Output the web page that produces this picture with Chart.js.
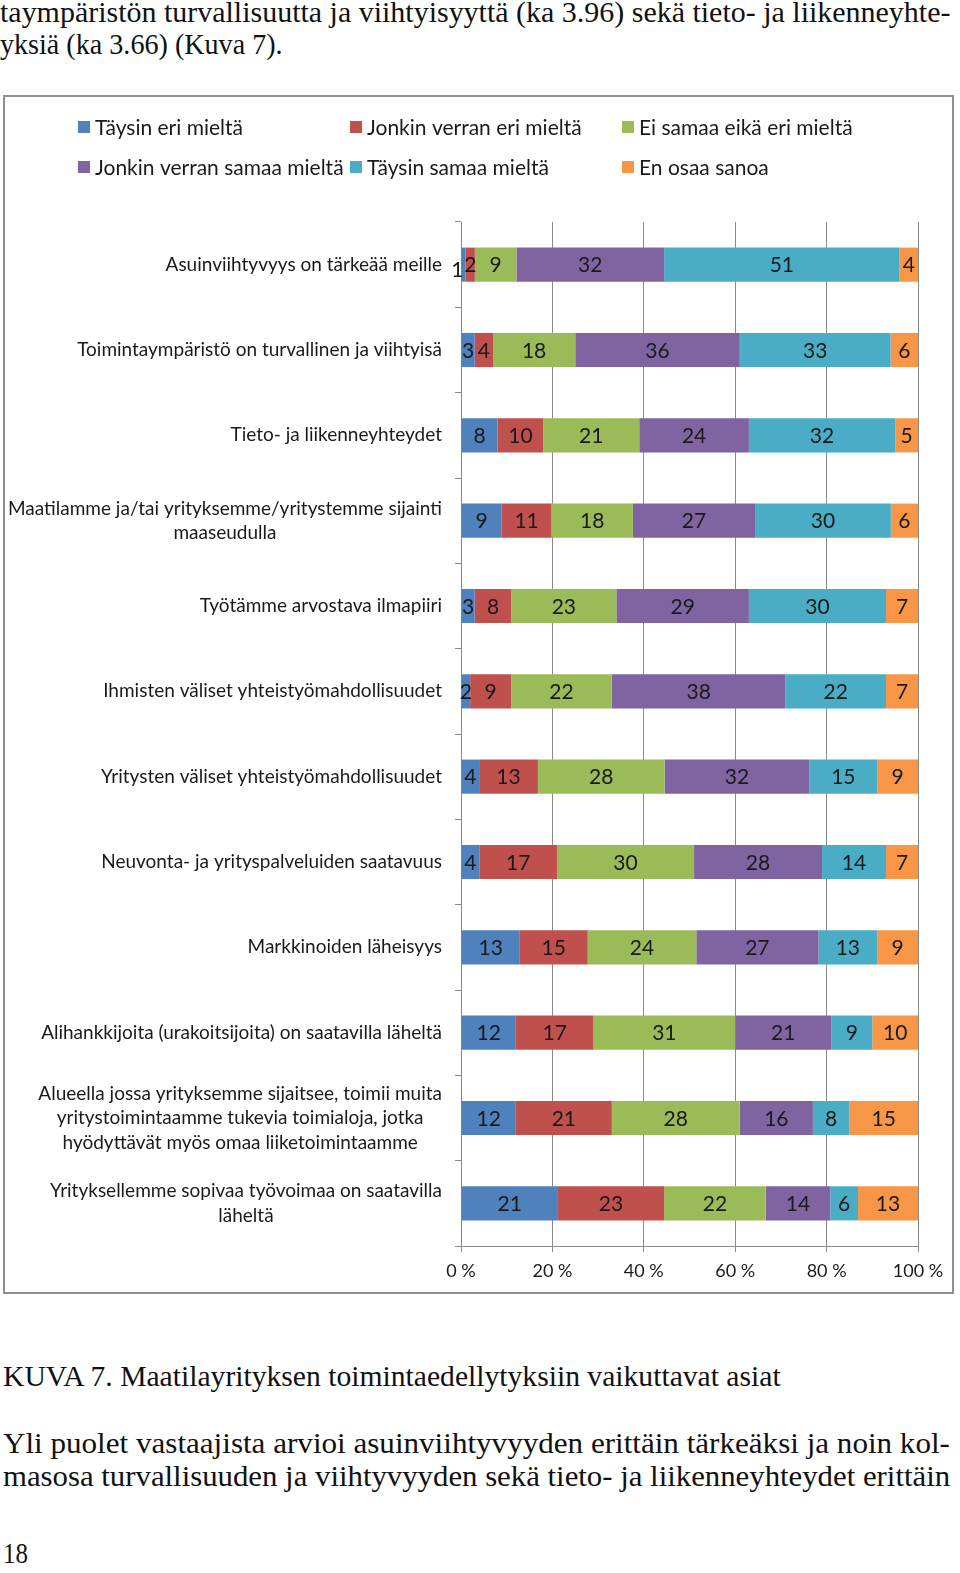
<!DOCTYPE html>
<html>
<head>
<meta charset="utf-8">
<script src="https://cdn.jsdelivr.net/npm/chart.js@4.4.1/dist/chart.umd.min.js"></script>
<style>
  html, body { margin:0; padding:0; background:#fff; }
  body { width:960px; height:1573px; position:relative; overflow:hidden; }
  .t { position:absolute; left:0; white-space:nowrap; font-family:'Liberation Serif', serif; font-size:30px; line-height:34px; color:#111; transform-origin:0 0; }
  #frame { position:absolute; left:3px; top:95px; width:951px; height:1199px; box-sizing:border-box; border:2px solid #8f8f8f; }
  #wrap { position:absolute; left:0; top:95px; width:960px; height:1200px; }
</style>
</head>
<body>
<div class="t" data-w="950" style="top:-5px">taympäristön turvallisuutta ja viihtyisyyttä (ka 3.96) sekä tieto- ja liikenneyhte-</div>
<div class="t" data-w="283" style="top:27px">yksiä (ka 3.66) (Kuva 7).</div>
<div id="frame"></div>
<div id="wrap"><canvas id="c" width="960" height="1200"></canvas></div>
<div class="t" data-w="778" style="top:1359px;left:3px">KUVA 7. Maatilayrityksen toimintaedellytyksiin vaikuttavat asiat</div>
<div class="t" data-w="947" style="top:1426px;left:3px">Yli puolet vastaajista arvioi asuinviihtyvyyden erittäin tärkeäksi ja noin kol-</div>
<div class="t" data-w="947" style="top:1459px;left:3px">masosa turvallisuuden ja viihtyvyyden sekä tieto- ja liikenneyhteydet erittäin</div>
<div class="t" data-w="25" style="top:1536px;left:3px">18</div>
<script>
// ---- data ----
const categories = [
  ['Asuinviihtyvyys on tärkeää meille'],
  ['Toimintaympäristö on turvallinen ja viihtyisä'],
  ['Tieto- ja liikenneyhteydet'],
  ['Maatilamme ja/tai yrityksemme/yritystemme sijainti', 'maaseudulla'],
  ['Työtämme arvostava ilmapiiri'],
  ['Ihmisten väliset yhteistyömahdollisuudet'],
  ['Yritysten väliset yhteistyömahdollisuudet'],
  ['Neuvonta- ja yrityspalveluiden saatavuus'],
  ['Markkinoiden läheisyys'],
  ['Alihankkijoita (urakoitsijoita) on saatavilla läheltä'],
  ['Alueella jossa yrityksemme sijaitsee, toimii muita', 'yritystoimintaamme tukevia toimialoja, jotka', 'hyödyttävät myös omaa liiketoimintaamme'],
  ['Yrityksellemme sopivaa työvoimaa on saatavilla', 'läheltä']
];
const seriesNames = ['Täysin eri mieltä', 'Jonkin verran eri mieltä', 'Ei samaa eikä eri mieltä',
                     'Jonkin verran samaa mieltä', 'Täysin samaa mieltä', 'En osaa sanoa'];
const taysinEri     = [1, 3, 8, 9, 3, 2, 4, 4, 13, 12, 12, 21];
const jonkinEri     = [2, 4, 10, 11, 8, 9, 13, 17, 15, 17, 21, 23];
const eiSamaaEiEri  = [9, 18, 21, 18, 23, 22, 28, 30, 24, 31, 28, 22];
const jonkinSamaa   = [32, 36, 24, 27, 29, 38, 32, 28, 27, 21, 16, 14];
const taysinSamaa   = [51, 33, 32, 30, 30, 22, 15, 14, 13, 9, 8, 6];
const enOsaaSanoa   = [4, 6, 5, 6, 7, 7, 9, 7, 9, 10, 15, 13];
const xTickValues   = [0, 20, 40, 60, 80, 100];
const seriesColors  = ['#4F81BD', '#C0504D', '#9BBB59', '#8064A2', '#4BACC6', '#F79646'];

// fit page text lines to their widths
document.querySelectorAll('.t').forEach(el => {
  const w = +el.dataset.w;
  el.style.transform = 'scaleX(' + (w / el.scrollWidth) + ')';
});

const rawSeries = [taysinEri, jonkinEri, eiSamaaEiEri, jonkinSamaa, taysinSamaa, enOsaaSanoa];
const totals = categories.map((_, i) => rawSeries.reduce((s, arr) => s + arr[i], 0));

const datasets = rawSeries.map((arr, k) => ({
  label: seriesNames[k],
  data: arr.map((v, i) => v / totals[i] * 100),
  raw: arr,
  backgroundColor: seriesColors[k],
  borderWidth: 0,
  barPercentage: 0.8,
  categoryPercentage: 0.5
}));

const FONT = 'Lato, "Open Sans", sans-serif';

const drawExtras = {
  id: 'extras',
  afterDatasetsDraw(chart) {
    const ctx = chart.ctx;
    ctx.save();
    ctx.font = '21px ' + FONT;
    ctx.fillStyle = '#1a1a1a';
    ctx.textBaseline = 'middle';
    chart.data.datasets.forEach((ds, k) => {
      const meta = chart.getDatasetMeta(k);
      meta.data.forEach((bar, i) => {
        const txt = String(ds.raw[i]);
        const w = ctx.measureText(txt).width;
        const seg = Math.abs(bar.x - bar.base);
        if (k === 0 && w > seg * 2) {
          ctx.textAlign = 'right';
          ctx.fillText(txt, bar.base + 2, bar.y + 6);
        } else {
          ctx.textAlign = 'center';
          ctx.fillText(txt, (bar.x + bar.base) / 2, bar.y + 1);
        }
      });
    });
    ctx.restore();
  },
  afterDraw(chart) {
    const ctx = chart.ctx;
    ctx.save();
    // category labels
    const ys = chart.scales.y;
    ctx.font = '19px ' + FONT;
    ctx.fillStyle = '#1a1a1a';
    ctx.textBaseline = 'middle';
    ctx.textAlign = 'center';
    const right = ys.right - 19;
    categories.forEach((lines, i) => {
      const y = ys.getPixelForValue(i);
      const maxW = Math.max(...lines.map(l => ctx.measureText(l).width));
      const cx = right - maxW / 2;
      lines.forEach((l, j) => {
        ctx.fillText(l, cx, y + (j - (lines.length - 1) / 2) * 24.5);
      });
    });
    // legend (3 columns x 2 rows)
    const colX = [78, 350, 622];
    const rowY = [32, 72];
    ctx.font = '21px ' + FONT;
    ctx.textAlign = 'left';
    chart.data.datasets.forEach((ds, k) => {
      const x = colX[k % 3], y = rowY[Math.floor(k / 3)];
      ctx.fillStyle = ds.backgroundColor;
      ctx.fillRect(x, y - 6, 12, 12);
      ctx.fillStyle = '#1a1a1a';
      ctx.fillText(ds.label, x + 17, y + 1);
    });
    ctx.restore();
  }
};

new Chart(document.getElementById('c'), {
  type: 'bar',
  data: { labels: categories, datasets },
  options: {
    indexAxis: 'y',
    responsive: false,
    animation: false,
    events: [],
    layout: { padding: { left: 0, top: 127, right: 42, bottom: 9 } },
    plugins: { legend: { display: false }, tooltip: { enabled: false } },
    scales: {
      x: {
        stacked: true,
        min: 0, max: 100,
        afterFit: s => { s.height = 40; },
        afterBuildTicks: s => { s.ticks = xTickValues.map(v => ({ value: v })); },
        grid: { color: '#8a8a8a', lineWidth: 1, tickLength: 6, drawTicks: true },
        border: { color: '#8a8a8a', width: 1 },
        ticks: {
          font: { family: FONT, size: 18 },
          color: '#1a1a1a',
          padding: 8,
          maxRotation: 0,
          callback: v => v + ' %'
        }
      },
      y: {
        stacked: true,
        afterFit: s => { s.width = 461; },
        grid: { drawOnChartArea: false, drawTicks: true, tickLength: 6, color: '#8a8a8a', offset: true },
        border: { color: '#8a8a8a', width: 1 },
        ticks: { display: false }
      }
    }
  },
  plugins: [drawExtras]
});
</script>
</body>
</html>
